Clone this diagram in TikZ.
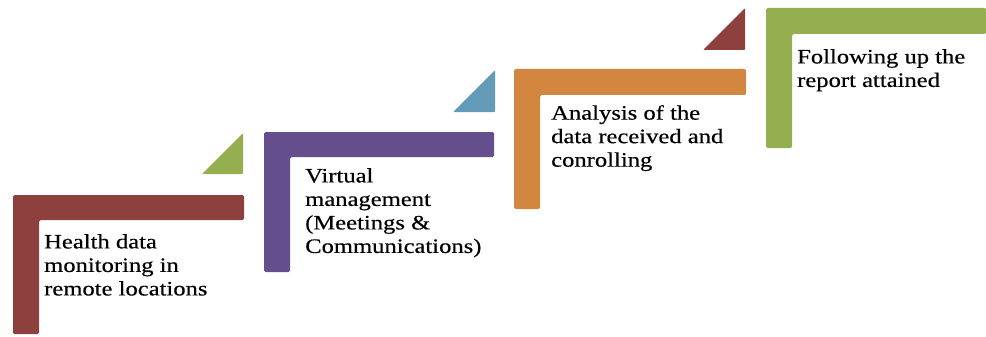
\documentclass[tikz,border=0pt]{standalone}
\usepackage{fontspec}
\setmainfont{Liberation Serif}[FakeStretch=1.2,FakeBold=0.4]
\definecolor{cred}{RGB}{142,64,63}
\definecolor{cpurple}{RGB}{101,78,140}
\definecolor{corange}{RGB}{210,134,64}
\definecolor{cgreen}{RGB}{148,174,80}
\definecolor{cblue}{RGB}{99,155,184}
\tikzset{
  lshape/.style={rounded corners=1.5pt},
  tri/.style={rounded corners=1pt},
  label/.style={anchor=north west, inner sep=0pt, align=left, text=black,
    font=\fontsize{20.5}{23.5}\selectfont}
}
\begin{document}
\begin{tikzpicture}[x=1pt,y=-1pt]
\useasboundingbox (0,0) rectangle (986,337);
% L shapes
\fill[lshape,cred] (13,195) -- (244,195) -- (244,220) -- (39,220) -- (39,334) -- (13,334) -- cycle;
\fill[lshape,cpurple] (264,132) -- (494,132) -- (494,157) -- (290,157) -- (290,272) -- (264,272) -- cycle;
\fill[lshape,corange] (514,69) -- (746,69) -- (746,95) -- (540,95) -- (540,209) -- (514,209) -- cycle;
\fill[lshape,cgreen] (766,8) -- (986,8) -- (986,34) -- (792,34) -- (792,148) -- (766,148) -- cycle;
% triangles
\fill[tri,cgreen] (243,133) -- (243,174) -- (202,174) -- cycle;
\fill[tri,cblue] (495,70) -- (495,112) -- (453,112) -- cycle;
\fill[tri,cred] (745,8) -- (745,50) -- (703,50) -- cycle;
% labels
\node[label] (t1) at (44,234) {Health data\\monitoring in\\remote locations};
\node[label] (t2) at (305,168) {Virtual\\management\\(Meetings \&\\Communications)};
\node[label] (t3) at (551,105) {Analysis of the\\data received and\\conrolling};
\node[label] (t4) at (797,49) {Following up the\\report attained};
\end{tikzpicture}
\end{document}
